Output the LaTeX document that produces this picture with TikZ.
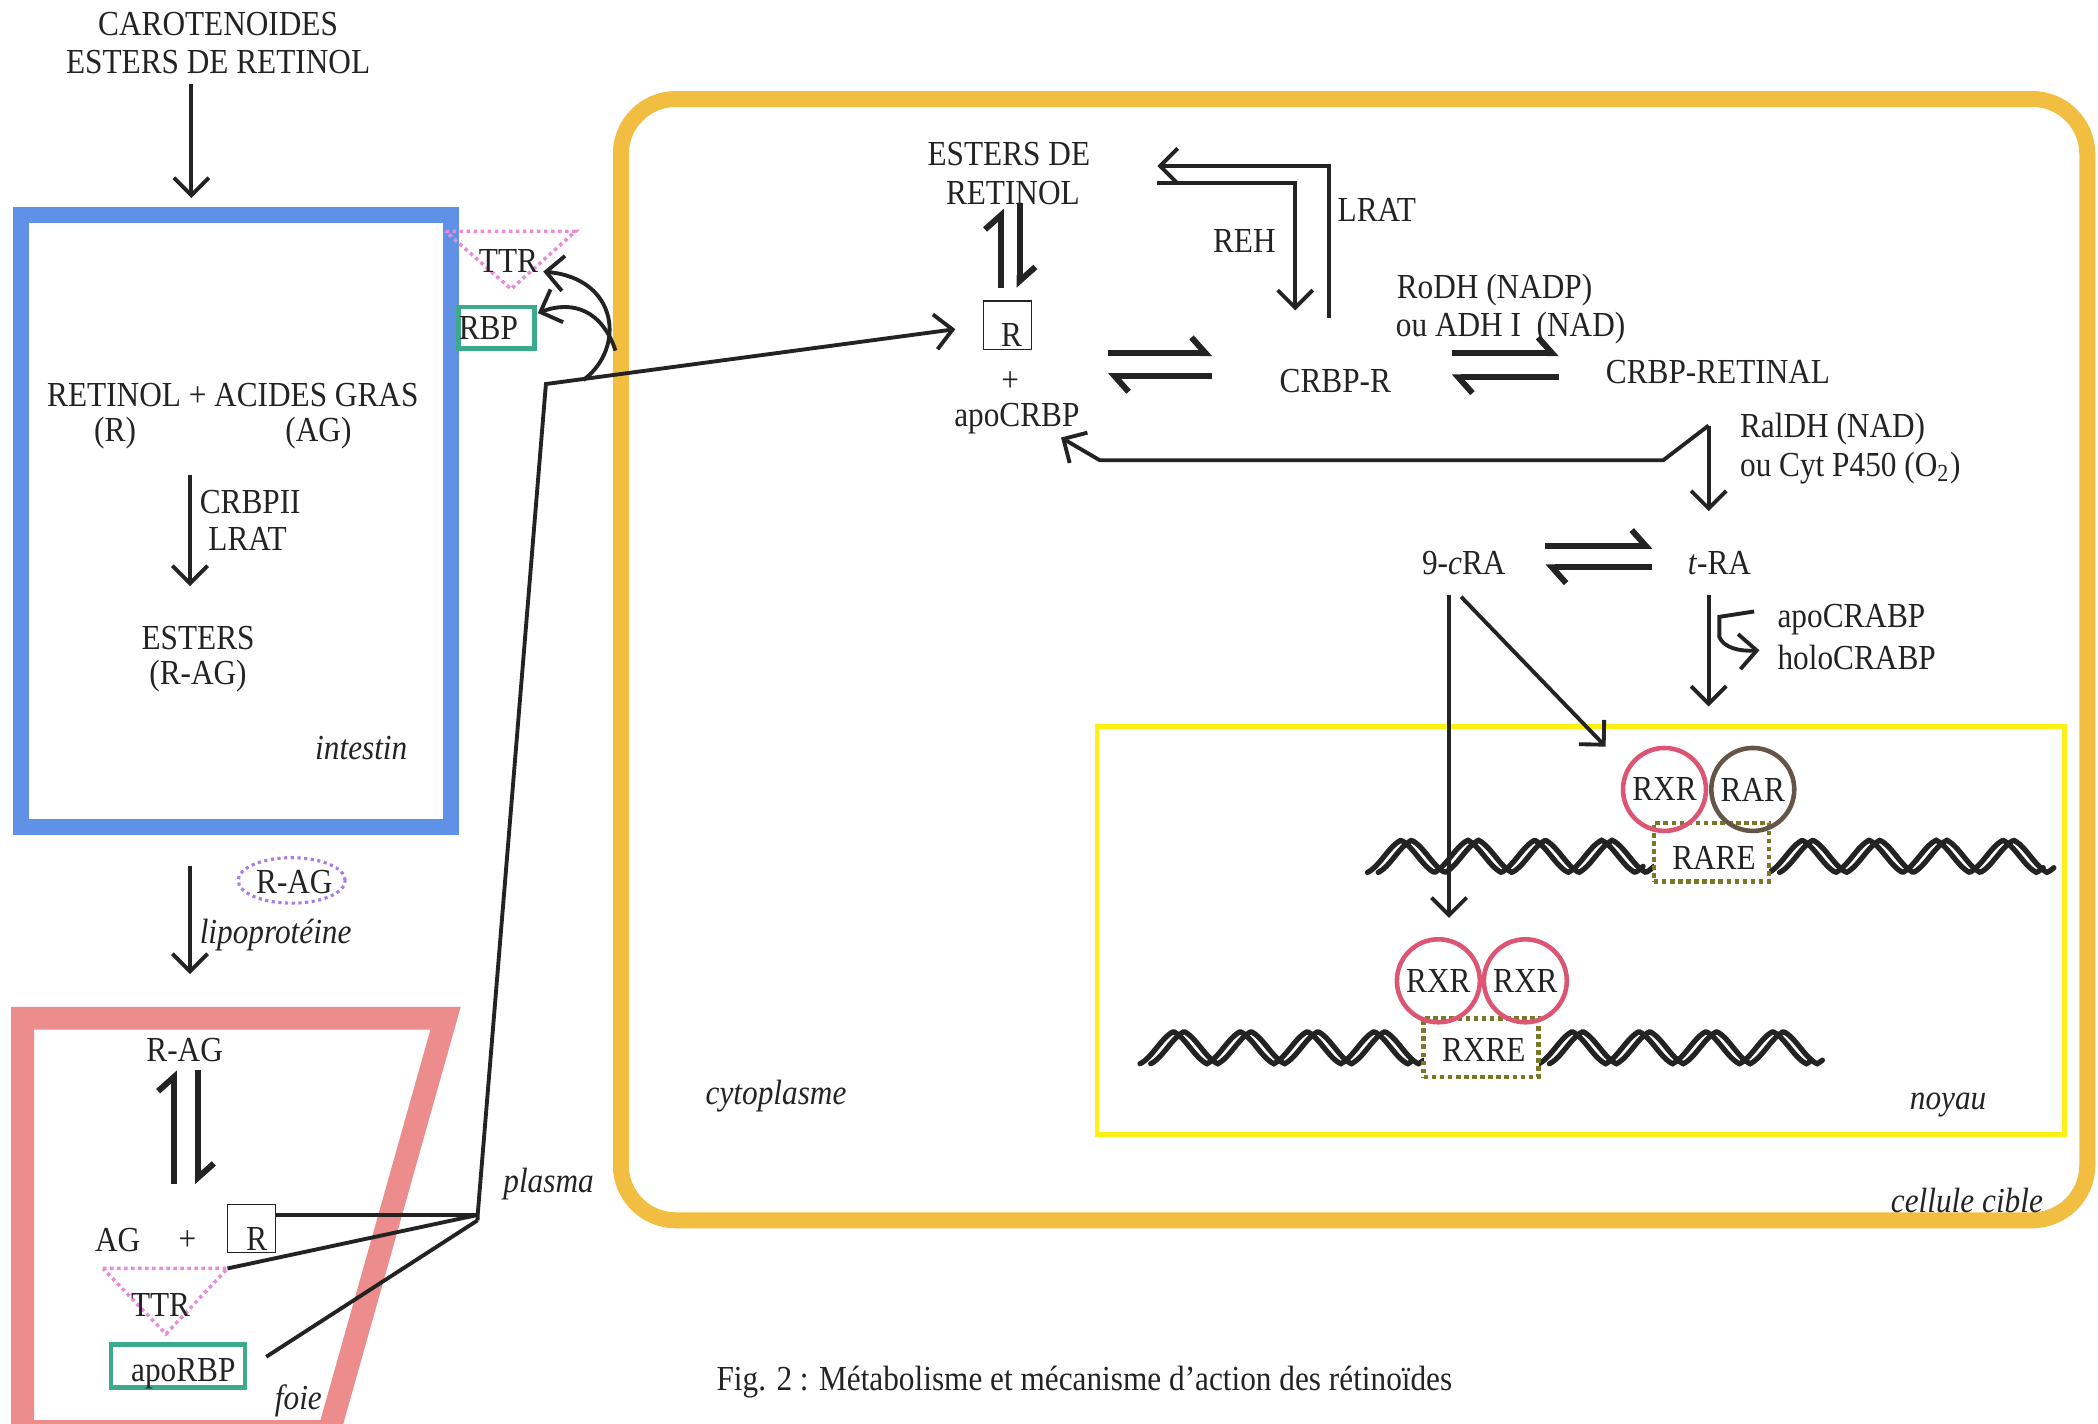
\documentclass[tikz,border=0pt]{standalone}
\usepackage{fontspec}
\setmainfont{Liberation Serif}[FakeStretch=0.89]
\usetikzlibrary{arrows.meta,shapes.geometric}
\definecolor{intblue}{RGB}{95,145,230}
\definecolor{foiepink}{RGB}{236,140,140}
\definecolor{cellorange}{RGB}{242,190,65}
\definecolor{nucyellow}{RGB}{255,240,20}
\definecolor{ttrpink}{RGB}{232,140,215}
\definecolor{rbpgreen}{RGB}{60,170,140}
\definecolor{raglav}{RGB}{170,125,230}
\definecolor{rxrred}{RGB}{220,85,115}
\definecolor{rarbrown}{RGB}{100,85,70}
\definecolor{reolive}{RGB}{120,120,40}
\definecolor{ink}{RGB}{35,35,35}
\newcommand\dnastrand[3]{%
  \draw[dna,domain=#1:#2-8,samples=160] plot (\x,{#3+6*cos(7.2*(\x-#1))+6*asin(cos(7.2*(\x-#1)))/90});
  \draw[dna,domain=#1+8:#2,samples=160] plot (\x,{#3+6*cos(7.2*(\x-#1-8))+6*asin(cos(7.2*(\x-#1-8)))/90});}
\begin{document}
\begin{tikzpicture}[x=0.01338cm,y=-0.01338cm,
  txt/.style={font=\fontsize{10}{12}\selectfont,inner sep=0pt,text=ink},
  itxt/.style={font=\fontsize{10}{12}\selectfont\itshape,inner sep=0pt,text=ink},
  arr/.style={draw=ink,line width=1.1pt,-{Straight Barb[length=5pt,width=10pt]}},
  ln/.style={draw=ink,line width=1.1pt},
  harp/.style={draw=ink,line width=1.7pt,-{Straight Barb[harpoon,length=4pt,width=9pt]}},
  dna/.style={draw=ink,line width=1.5pt,line cap=round},
  rbox/.style={draw=ink,line width=0.4pt,minimum width=36*0.01338cm,minimum height=36*0.01338cm,inner sep=0pt},
  ttrtri/.style={draw=ttrpink,line width=1pt,densely dotted},
  greenbox/.style={draw=rbpgreen,line width=1.3pt,inner sep=0pt},
  circ/.style={circle,line width=1.3pt,minimum size=62*0.01338cm,inner sep=0pt,font=\fontsize{10}{12}\selectfont,text=ink},
  rebox/.style={draw=reolive,line width=1.3pt,densely dotted,inner sep=0pt,minimum width=86*0.01338cm,minimum height=44*0.01338cm,font=\fontsize{10}{12}\selectfont,text=ink}
]
\useasboundingbox (0,0) rectangle (1568,1064);

% ---------- big compartments ----------
\draw[draw=cellorange,line width=0.16cm,rounded corners=0.55cm] (464,74) rectangle (1560,912);
\draw[draw=intblue,line width=0.16cm] (16,161) rectangle (337,618);
\draw[draw=foiepink,line width=0.23cm,line join=miter] (246,1070) -- (17,1070) -- (17,761) -- (333,761) -- cycle;
\draw[draw=nucyellow,line width=0.045cm] (820,543) rectangle (1543,848);

% ---------- intestine ----------
\node[txt] (carot) at (163,18) {CAROTENOIDES};
\node[txt] (estr0) at (163,46) {ESTERS DE RETINOL};
\coordinate (a0s) at (143,63);
\coordinate (a0e) at (143,148);
\draw[arr] (a0s) -- (a0e);

\draw[ttrtri] (333,173) -- (430,173) -- (382,216) -- cycle;
\node[txt] (ttr1) at (380,195) {TTR};
\node[greenbox,minimum width=57*0.01338cm,minimum height=31*0.01338cm] (rbp1) at (371,245) {};
\node[txt] (rbpt) at (365,245) {RBP};

\node[txt] (retag) at (174,295) {RETINOL + ACIDES GRAS};
\node[txt] (rpar) at (86,324) {(R)};
\node[txt] (agpar) at (238,324) {(AG)};
\coordinate (a1s) at (142,355);
\coordinate (a1e) at (142,438);
\draw[arr] (a1s) -- (a1e);
\node[txt] (crbpii) at (187,375) {CRBPII};
\node[txt] (lrat1) at (185,403) {LRAT};
\node[txt] (esters1) at (148,477) {ESTERS};
\node[txt] (ragp) at (148,505) {(R-AG)};
\node[itxt] (intestin) at (270,559) {intestin};

\node[draw=raglav,line width=0.9pt,densely dotted,ellipse,minimum width=80*0.01338cm,minimum height=34*0.01338cm,inner sep=0pt] (ragell) at (218,658) {};
\node[txt] (rag0) at (220,659) {R-AG};
\coordinate (a2s) at (142,647);
\coordinate (a2e) at (142,728);
\draw[arr] (a2s) -- (a2e);
\node[itxt] (lipo) at (206,699) {lipoprotéine};

% ---------- liver ----------
\node[txt] (rag2) at (138,785) {R-AG};
\coordinate (h1s) at (130,885);
\coordinate (h1e) at (130,800);
\coordinate (h2s) at (148,800);
\coordinate (h2e) at (148,885);
\draw[harp] (h1s) -- (h1e);
\draw[harp] (h2s) -- (h2e);
\node[txt] (ag2) at (88,927) {AG};
\node[txt] (plus2) at (140,927) {+};
\node[rbox] (rbox2) at (188,918) {};
\node[txt] (r2) at (192,926) {R};
\draw[ttrtri] (77,948) -- (170,948) -- (124,997) -- cycle;
\node[txt] (ttr2) at (120,975) {TTR};
\node[greenbox,minimum width=100*0.01338cm,minimum height=32*0.01338cm] (aporbp) at (133,1021) {};
\node[txt] (aporbpt) at (137,1027) {apoRBP};
\node[itxt] (foie) at (223,1047) {foie};

% ---------- plasma connections ----------
\coordinate (J) at (357,908);
\coordinate (K) at (408,287);
\coordinate (ttrc) at (170,948);
\coordinate (rbpc) at (199,1014);
\draw[ln] (rbox2.east |- 0,908) -- (J);
\draw[ln] (ttrc) -- (J);
\draw[ln] (rbpc) -- (357,912);
\draw[ln,line join=miter] (357,912) -- (J) -- (K) -- (438,283);
\node[itxt] (plasma) at (410,885) {plasma};

\coordinate (c1s) at (436,284);
\coordinate (c1e) at (406,203);
\coordinate (c2s) at (460,262);
\coordinate (c2e) at (402,234);
\draw[arr] (c1s) .. controls (468,260) and (462,208) .. (c1e);
\draw[arr] (c2s) .. controls (450,232) and (428,224) .. (c2e);

% ---------- target cell ----------
\node[txt] (estde) at (754,115) {ESTERS DE};
\node[txt] (retinol) at (757,144) {RETINOL};
\coordinate (h3s) at (748,215);
\coordinate (h3e) at (748,156);
\coordinate (h4s) at (762,152);
\coordinate (h4e) at (762,215);
\draw[harp] (h3s) -- (h3e);
\draw[harp] (h4s) -- (h4e);
\node[rbox] (rbox1) at (753,243) {};
\node[txt] (r1) at (756,250) {R};
\draw[arr] (438,283) -- (714,246);
\node[txt] (plus1) at (755,285) {+};
\node[txt] (apocrbp) at (760,313) {apoCRBP};

\coordinate (h5s) at (828,264);
\coordinate (h5e) at (906,264);
\coordinate (h6s) at (906,281);
\coordinate (h6e) at (828,281);
\draw[harp] (h5s) -- (h5e);
\draw[harp] (h6s) -- (h6e);
\node[txt] (crbpr) at (998,285) {CRBP-R};

\coordinate (rehs) at (865,137);
\coordinate (rehe) at (968,232);
\draw[arr] (rehs) -- (968,137) -- (rehe);
\coordinate (lrats) at (993,238);
\coordinate (lrate) at (865,124);
\draw[arr] (lrats) -- (993,124) -- (lrate);
\node[txt] (reh) at (930,180) {REH};
\node[txt] (lrat2) at (1029,157) {LRAT};

\node[txt] (rodh) at (1117,217) {RoDH (NADP)};
\node[txt] (adh) at (1129,245) {ou ADH I\ \ (NAD)};
\coordinate (h7s) at (1085,264);
\coordinate (h7e) at (1165,264);
\coordinate (h8s) at (1165,282);
\coordinate (h8e) at (1085,282);
\draw[harp] (h7s) -- (h7e);
\draw[harp] (h8s) -- (h8e);
\node[txt] (crbpret) at (1284,278) {CRBP-RETINAL};

\coordinate (a3s) at (1277,318);
\coordinate (a3e) at (1277,382);
\draw[arr] (a3s) -- (a3e);
\coordinate (apoe) at (793,327);
\draw[arr,line join=miter] (a3s) -- (1243,344) -- (822,344) -- (apoe);
\node[txt,anchor=west] (raldh) at (1300,321) {RalDH (NAD)};
\node[txt,anchor=west] (cyt) at (1300,350) {ou Cyt P450 (O\textsubscript{2})};

\node[txt] (ninecra) at (1094,421) {9-\textit{c}RA};
\node[txt] (tra) at (1285,421) {\textit{t}-RA};
\coordinate (h9s) at (1155,408);
\coordinate (h9e) at (1235,408);
\coordinate (h10s) at (1235,424);
\coordinate (h10e) at (1155,424);
\draw[harp] (h9s) -- (h9e);
\draw[harp] (h10s) -- (h10e);

\coordinate (a4s) at (1083,445);
\coordinate (a4e) at (1083,686);
\draw[arr] (a4s) -- (a4e);
\coordinate (a5s) at (1092,446);
\coordinate (a5e) at (1200,558);
\draw[arr] (a5s) -- (a5e);
\coordinate (a6s) at (1277,445);
\coordinate (a6e) at (1277,528);
\draw[arr] (a6s) -- (a6e);
\coordinate (crs) at (1311,457);
\coordinate (cre) at (1315,486);
\draw[arr] (crs) -- (1285,461) -- (1285,476) .. controls (1288,484) and (1300,487) .. (cre);
\node[txt,anchor=west] (apocrabp) at (1328,463) {apoCRABP};
\node[txt,anchor=west] (holocrabp) at (1328,491) {holoCRABP};

% ---------- nucleus ----------
\dnastrand{1022}{1236}{640}
\dnastrand{1322}{1535}{640}
\node[rebox,fill=white] (rare) at (1279,637) {};
\node[txt] (raret) at (1281,641) {RARE};
\node[circ,draw=rxrred] (rxr1) at (1244,590) {RXR};
\node[circ,draw=rarbrown] (rar1) at (1310,590) {RAR};

\dnastrand{852}{1064}{783}
\dnastrand{1150}{1362}{783}
\node[rebox,fill=white] (rxre) at (1107,783) {};
\node[txt] (rxret) at (1109,785) {RXRE};
\node[circ,draw=rxrred] (rxr2) at (1075,733) {RXR};
\node[circ,draw=rxrred] (rxr3) at (1140,733) {RXR};

\node[itxt] (noyau) at (1456,826) {noyau};
\node[itxt] (cyto) at (580,819) {cytoplasme};
\node[itxt] (cible) at (1470,897) {cellule cible};

\node[txt,anchor=west] (caption) at (535,1033) {Fig. 2 : Métabolisme et mécanisme d'action des rétinoïdes};
\end{tikzpicture}
\end{document}
